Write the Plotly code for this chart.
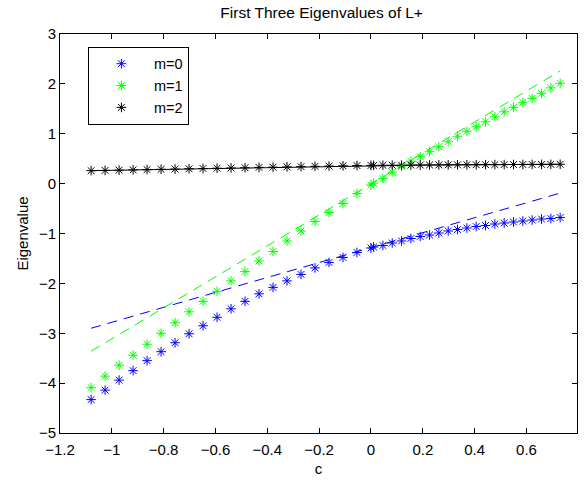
import plotly.graph_objects as go

# c values (two sampling segments)
c_left = [-1.08, -1.026, -0.972, -0.918, -0.864, -0.81, -0.756, -0.702, -0.648, -0.594,
          -0.54, -0.486, -0.432, -0.378, -0.324, -0.27, -0.216, -0.162, -0.108, -0.054, 0.0]
c_right = [0.01, 0.046, 0.082, 0.118, 0.154, 0.19, 0.226, 0.262, 0.298, 0.334, 0.37,
           0.406, 0.442, 0.478, 0.514, 0.55, 0.586, 0.622, 0.658, 0.694, 0.73]
c_vals = c_left + c_right

# eigenvalues
m0 = [-4.33, -4.14, -3.94, -3.75, -3.55, -3.37, -3.19, -3.01, -2.85, -2.68,
      -2.51, -2.36, -2.21, -2.08, -1.95, -1.82, -1.69, -1.58, -1.48, -1.38, -1.29,
      -1.27, -1.24, -1.19, -1.15, -1.10, -1.06, -1.03, -0.99, -0.95, -0.92,
      -0.89, -0.86, -0.84, -0.81, -0.79, -0.77, -0.75, -0.73, -0.71, -0.70, -0.68]
m1 = [-4.09, -3.86, -3.64, -3.44, -3.22, -3.00, -2.79, -2.57, -2.36, -2.16,
      -1.95, -1.76, -1.55, -1.36, -1.15, -0.95, -0.76, -0.58, -0.40, -0.20, -0.03,
      0.01, 0.10, 0.23, 0.34, 0.45, 0.54, 0.64, 0.74, 0.84, 0.95,
      1.05, 1.14, 1.24, 1.34, 1.44, 1.53, 1.63, 1.71, 1.81, 1.92, 2.01]
m2 = [0.26, 0.265, 0.27, 0.276, 0.281, 0.287, 0.292, 0.298, 0.303, 0.309,
      0.314, 0.319, 0.325, 0.330, 0.336, 0.341, 0.347, 0.352, 0.357, 0.362, 0.365,
      0.366, 0.368, 0.369, 0.370, 0.372, 0.373, 0.374, 0.375, 0.376, 0.377,
      0.378, 0.379, 0.380, 0.381, 0.382, 0.383, 0.384, 0.385, 0.386, 0.387, 0.388]

# asymptotic (dashed) lines, endpoints
fit_c = [-1.08, 0.73]
fit_m0 = [-2.90, -0.19]
fit_m1 = [-3.36, 2.26]

x_ticks = [-1.2, -1.0, -0.8, -0.6, -0.4, -0.2, 0.0, 0.2, 0.4, 0.6]
x_ticktext = ["\u22121.2", "\u22121", "\u22120.8", "\u22120.6", "\u22120.4", "\u22120.2", "0", "0.2", "0.4", "0.6"]
y_ticks = [-5, -4, -3, -2, -1, 0, 1, 2, 3]
y_ticktext = ["\u22125", "\u22124", "\u22123", "\u22122", "\u22121", "0", "1", "2", "3"]

FONT = "Liberation Sans, Arial, Helvetica, sans-serif"
BLUE = "#0000FF"
GREEN = "#00FF00"
BLACK = "#000000"
FS = 15

fig = go.Figure()

def star(color):
    return dict(symbol="asterisk-open", size=8, color=color, line=dict(color=color, width=1))

fig.add_trace(go.Scatter(x=c_vals, y=m0, mode="markers", name="m=0", marker=star(BLUE)))
fig.add_trace(go.Scatter(x=c_vals, y=m1, mode="markers", name="m=1", marker=star(GREEN)))
fig.add_trace(go.Scatter(x=c_vals, y=m2, mode="lines", showlegend=False,
                         line=dict(color=BLACK, width=1)))
fig.add_trace(go.Scatter(x=c_vals, y=m2, mode="markers", name="m=2", marker=star(BLACK)))
fig.add_trace(go.Scatter(x=fit_c, y=fit_m0, mode="lines", showlegend=False,
                         line=dict(color=BLUE, width=1, dash="10px,7px")))
fig.add_trace(go.Scatter(x=fit_c, y=fit_m1, mode="lines", showlegend=False,
                         line=dict(color=GREEN, width=1, dash="10px,7px")))

axis_common = dict(showgrid=False, zeroline=False, showline=True, linecolor=BLACK,
                   linewidth=1, mirror="ticks", ticks="inside", ticklen=5,
                   tickcolor=BLACK, tickfont=dict(family=FONT, size=FS, color=BLACK))

fig.update_xaxes(range=[-1.2, 0.795], tickvals=x_ticks, ticktext=x_ticktext,
                 ticklabelstandoff=3,
                 title=dict(text="c", font=dict(family=FONT, size=FS, color=BLACK), standoff=6),
                 **axis_common)
fig.update_yaxes(range=[-5, 3], tickvals=y_ticks, ticktext=y_ticktext,
                 title=dict(text="Eigenvalue", font=dict(family=FONT, size=FS, color=BLACK), standoff=6),
                 **axis_common)

fig.update_layout(
    width=588, height=485,
    margin=dict(l=60, r=10, t=34, b=42),
    paper_bgcolor="white", plot_bgcolor="white",
    title=dict(text="First Three Eigenvalues of L+", x=0.547, xanchor="center",
               y=0.975, yanchor="middle",
               font=dict(family=FONT, size=15.5, color=BLACK)),
    legend=dict(x=0.054, y=0.968, xanchor="left", yanchor="top",
                bgcolor="white", bordercolor=BLACK, borderwidth=1,
                font=dict(family=FONT, size=14.5, color=BLACK), itemwidth=55,
                tracegroupgap=0),
    font=dict(family=FONT, color=BLACK),
)

fig.write_html("out.html")
